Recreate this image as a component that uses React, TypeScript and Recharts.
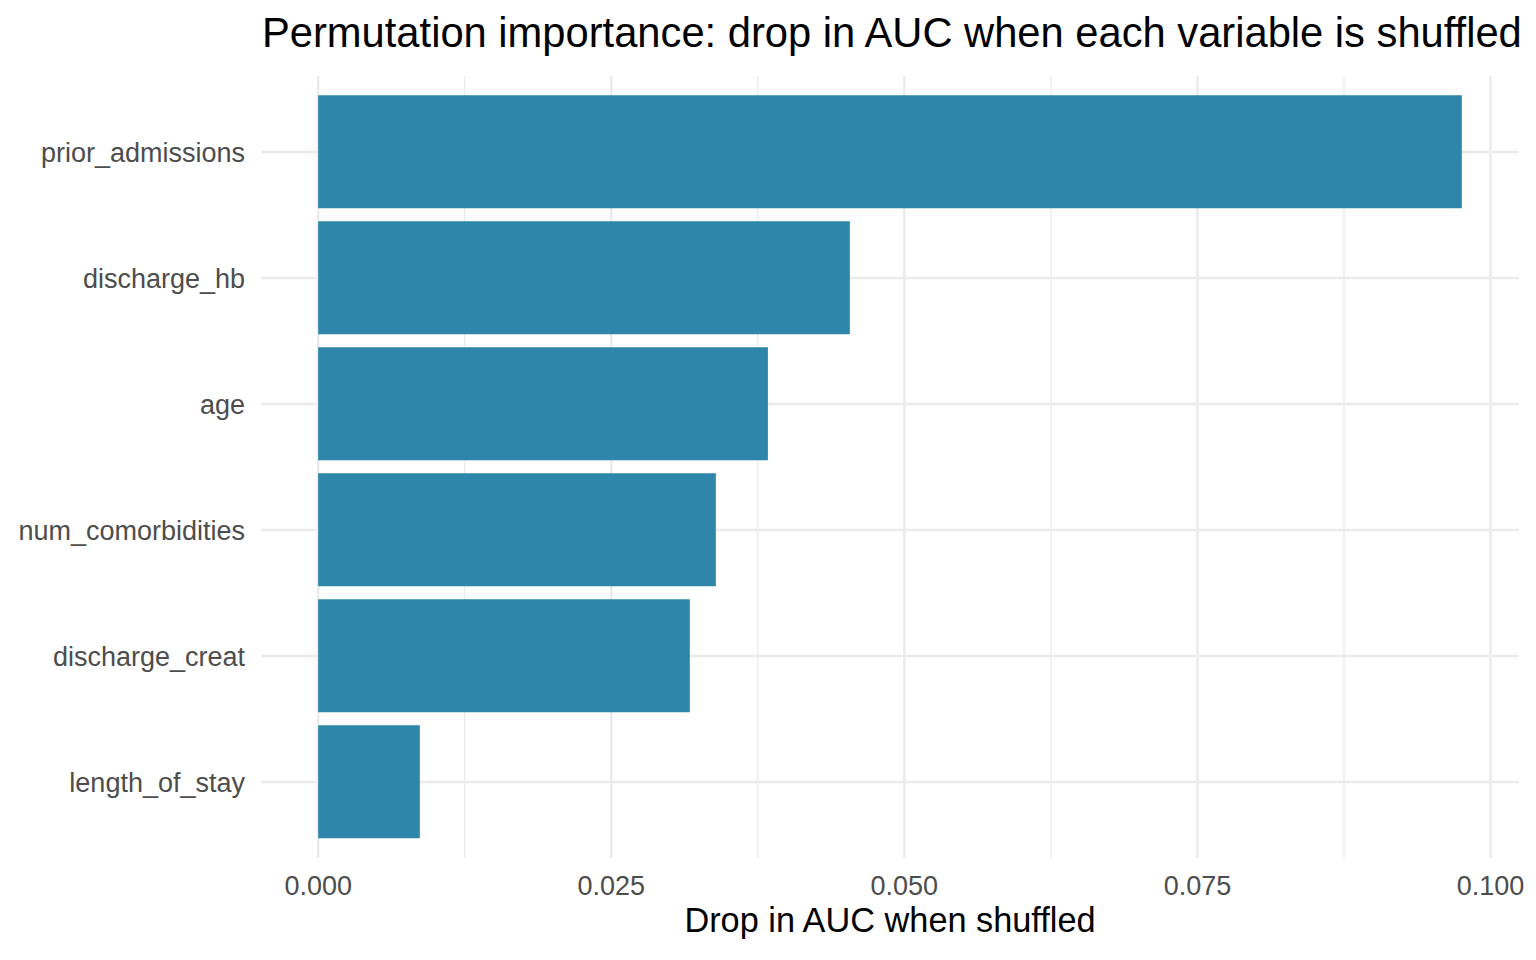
import React from "react";
import { Bar, BarChart, CartesianGrid, Label, XAxis, YAxis } from "recharts";

// permutation importance
const variables = [
  "prior_admissions",
  "discharge_hb",
  "age",
  "num_comorbidities",
  "discharge_creat",
  "length_of_stay",
];
const aucDrop = [0.09755, 0.04535, 0.03836, 0.03392, 0.0317, 0.00867];
const majorTicks = [0, 0.025, 0.05, 0.075, 0.1];
const minorTicks = [0.0125, 0.0375, 0.0625, 0.0875];

const data = variables.map((name, i) => ({ name, drop: aucDrop[i] }));

// ggplot-style 5% expansion of the continuous axis
const maxDrop = Math.max(...aucDrop);
const pad = maxDrop * 0.05;
const xDomain: [number, number] = [-pad, maxDrop + pad];

const FONT = "'Liberation Sans', Arial, Helvetica, sans-serif";
const GRID = "#EBEBEB";

export default function App() {
  return (
    <div
      style={{
        position: "absolute",
        left: 0,
        top: 0,
        width: 1536,
        height: 960,
        background: "#fff",
        fontFamily: FONT,
      }}
    >
      <div
        style={{
          position: "absolute",
          left: 262,
          top: 9,
          fontSize: 41.7,
          color: "#000",
          whiteSpace: "nowrap",
        }}
      >
        Permutation importance: drop in AUC when each variable is shuffled
      </div>
      <BarChart
        width={1536}
        height={960}
        data={data}
        layout="vertical"
        margin={{ top: 76, right: 17, bottom: 0, left: 0 }}
        barCategoryGap="5%"
      >
        {/* minor grid first so the major lines sit on top */}
        <CartesianGrid
          horizontal={false}
          verticalValues={minorTicks}
          syncWithTicks
          stroke={GRID}
          strokeWidth={1.3}
        />
        <CartesianGrid syncWithTicks stroke={GRID} strokeWidth={2.5} />
        <XAxis
          type="number"
          dataKey="drop"
          domain={xDomain}
          ticks={majorTicks}
          interval={0}
          height={102}
          axisLine={false}
          tickLine={false}
          tickMargin={12}
          tickFormatter={(v: number) => v.toFixed(3)}
          tick={{ fill: "#4D4D4D", fontSize: 27, fontFamily: FONT }}
        >
          <Label
            value="Drop in AUC when shuffled"
            position="insideBottom"
            offset={28}
            style={{ fill: "#000", fontSize: 34.3, fontFamily: FONT }}
          />
        </XAxis>
        <YAxis
          type="category"
          dataKey="name"
          width={261}
          padding={{ top: 13, bottom: 13 }}
          axisLine={false}
          tickLine={false}
          tickMargin={10}
          interval={0}
          tick={{ fill: "#4D4D4D", fontSize: 27, fontFamily: FONT }}
        />
        <Bar dataKey="drop" fill="#2E86AB" isAnimationActive={false} />
      </BarChart>
    </div>
  );
}
